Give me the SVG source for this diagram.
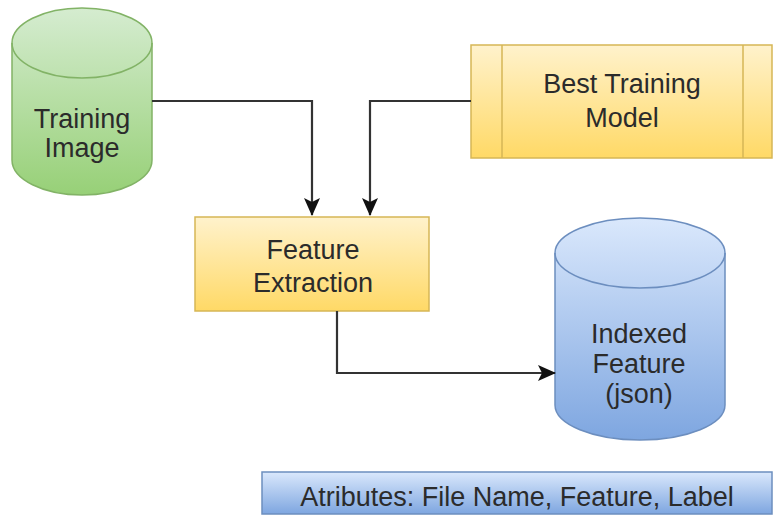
<svg xmlns="http://www.w3.org/2000/svg" width="774" height="520" viewBox="0 0 774 520">
<defs>
<style>
.lbl{font-family:"Liberation Sans",Arial,sans-serif;font-size:27px;fill:#2b2b2b;text-anchor:middle}
.edge{fill:none;stroke:#333;stroke-width:2.2}
</style>
<linearGradient id="gG" x1="0" y1="0" x2="0" y2="1"><stop offset="0" stop-color="#d5ecd0"/><stop offset="1" stop-color="#97d077"/></linearGradient>
<linearGradient id="gY" x1="0" y1="0" x2="0" y2="1"><stop offset="0" stop-color="#fff2cc"/><stop offset="1" stop-color="#ffd966"/></linearGradient>
<linearGradient id="gB" x1="0" y1="0" x2="0" y2="1"><stop offset="0" stop-color="#dae8fc"/><stop offset="1" stop-color="#7ea6e0"/></linearGradient>
<marker id="arr" markerUnits="userSpaceOnUse" markerWidth="18" markerHeight="18" viewBox="0 0 18 18" refX="17" refY="9" orient="auto">
<path d="M0,1 L18,9 L0,17 L4,9 Z" fill="#111"/>
</marker>
</defs>
<rect width="774" height="520" fill="#fff"/>
<g id="training-image">
<path d="M12,43 A70,35 0 0 1 152,43 L152,160 A70,35 0 0 1 12,160 Z" fill="url(#gG)" stroke="#82b366" stroke-width="1.5"/>
<path d="M12,43 A70,35 0 0 0 152,43" fill="none" stroke="#82b366" stroke-width="1.5"/>
<text class="lbl" x="82" y="128">Training</text>
<text class="lbl" x="82" y="157">Image</text>
</g>
<g id="best-training-model">
<rect x="471" y="45" width="301" height="113" fill="url(#gY)" stroke="#d6b656" stroke-width="1.5"/>
<line x1="502" y1="45" x2="502" y2="158" stroke="#d6b656" stroke-width="1.5"/>
<line x1="743" y1="45" x2="743" y2="158" stroke="#d6b656" stroke-width="1.5"/>
<text class="lbl" x="622" y="93">Best Training</text>
<text class="lbl" x="622" y="127">Model</text>
</g>
<g id="feature-extraction">
<rect x="195" y="217" width="234" height="94" fill="url(#gY)" stroke="#d6b656" stroke-width="1.5"/>
<text class="lbl" x="313" y="259">Feature</text>
<text class="lbl" x="313" y="292">Extraction</text>
</g>
<g id="indexed-feature">
<path d="M555,253 A85,35 0 0 1 725,253 L725,405 A85,35 0 0 1 555,405 Z" fill="url(#gB)" stroke="#6c8ebf" stroke-width="1.5"/>
<path d="M555,253 A85,35 0 0 0 725,253" fill="none" stroke="#6c8ebf" stroke-width="1.5"/>
<text class="lbl" x="639" y="343">Indexed</text>
<text class="lbl" x="639" y="373">Feature</text>
<text class="lbl" x="639" y="403">(json)</text>
</g>
<g id="attributes">
<rect x="262" y="472" width="510" height="42" fill="url(#gB)" stroke="#6c8ebf" stroke-width="1.5"/>
<text class="lbl" x="517" y="506">Atributes: File Name, Feature, Label</text>
</g>
<g id="connectors">
<polyline class="edge" points="152,101 312,101 312,215" marker-end="url(#arr)"/>
<polyline class="edge" points="471,101 370,101 370,215" marker-end="url(#arr)"/>
<polyline class="edge" points="337,311 337,373 555,373" marker-end="url(#arr)"/>
</g>
</svg>
